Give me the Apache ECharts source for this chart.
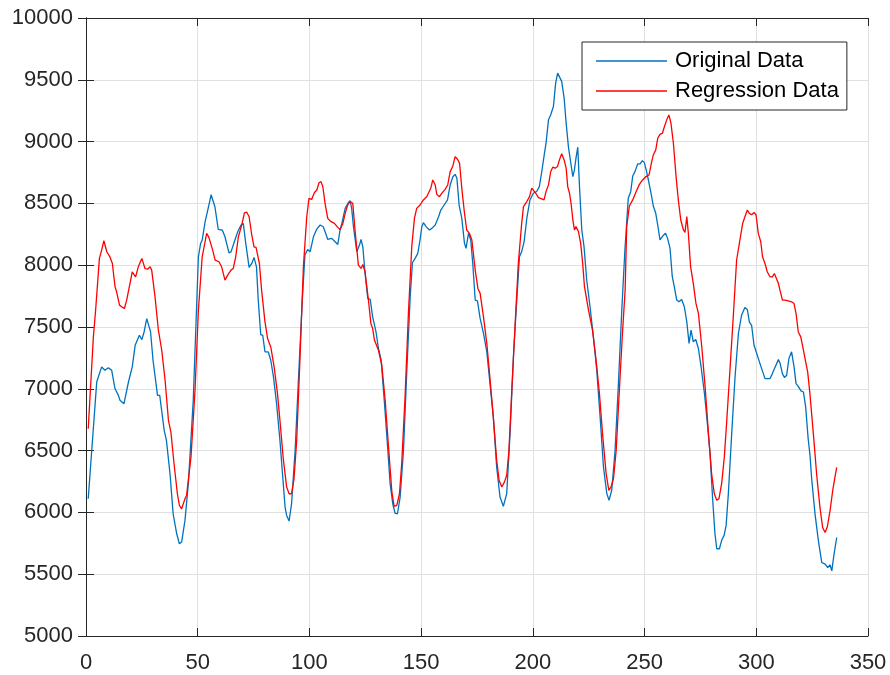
<!DOCTYPE html>
<html>
<head>
<meta charset="utf-8">
<script src="https://cdn.jsdelivr.net/npm/echarts@6/dist/echarts.min.js"></script>
<style>
  html, body { margin: 0; padding: 0; background: #fff; }
  #chart { width: 890px; height: 675px; }
</style>
</head>
<body>
<div id="chart"></div>
<script>
// values
const origX = [1, 4.8, 7, 8.5, 10, 11.5, 13, 14.5, 15.2, 17, 19, 20.7, 22, 23.9, 25, 26, 27.2, 28.9, 30, 32, 33, 35, 36, 37.6, 39, 40.6, 41.8, 42.8, 44.3, 45.8, 48, 50.3, 51.3, 52, 53.3, 55.5, 56,
  57.7, 59.2, 61, 62.2, 64, 64.9, 66.4, 67.9, 69.4, 70.4, 71.5, 73, 74.2, 75.2, 76.3, 77.1, 78.2, 79.1, 80.1, 81.6, 82.7, 83.9, 85.3, 86.8, 88, 89.1, 89.8, 90.9, 92, 93.6, 95, 96.8, 98, 99.2, 100.3, 101.8, 103.3, 104.8, 106.2, 107.3, 108.2, 110, 111.5, 112.7, 113.7, 114.5, 116, 117.4, 118.2, 118.9, 119.7,
  121.2, 122.4, 123.1, 123.9, 124.9, 126.1, 127.2, 128.3, 129.8, 130.9, 132.1, 133.6, 135.1, 136.1, 137.3, 138.3, 139.4, 140.6, 142.1, 143.6, 145.1, 146.1, 147.3, 148.5, 149.5, 150.3, 151, 152.2, 153.7, 154.8, 156.3, 157.8, 158.8, 160.3, 161.8, 163, 164.2, 165.2, 166, 167, 168.2, 169.4, 170.1, 171.2, 172.2, 173.1, 174.2, 175.2, 176.4, 177.9, 179.4,
  180.8, 182.3, 183.8, 185.3, 186.8, 188.3, 189.8, 191.3, 192.8, 194, 195, 196.1, 197.3, 198.7, 200.2, 201.7, 202.9, 204, 205.2, 205.9, 207, 208, 209.2, 210.2, 211.1, 211.9, 212.9, 214, 214.9, 215.9, 217, 217.9, 218.6, 219.3, 220.1, 220.8, 221.9, 222.9, 224.1, 225.6, 227.1, 228.6, 230.1, 231.6, 233.1, 234.1, 235.3, 236.8, 238.3, 239.8,
  241.2, 242.7, 243.8, 244.7, 245.7, 246.9, 248, 249, 249.9, 250.9, 252, 252.9, 253.9, 255, 255.9, 256.9, 258.1, 259.4, 260.3, 261.4, 262.4, 263.3, 264.4, 265.4, 266.6, 267.8, 268.9, 269.9, 270.8, 271.8, 272.9, 274.1, 275.3, 276.8, 278.1, 279.3, 280.5, 281.5, 282.3, 283.5, 284.5, 285.6, 286.5, 287.5, 289, 290.5, 292,
  293.4, 294.2, 294.9, 296, 296.9, 297.9, 299, 300.2, 301.4, 302.4, 303.9, 304.9, 306.1, 307.2, 308.1, 308.8, 309.9, 310.6, 311.7, 312.6, 313.6, 314.6, 315.8, 316.9, 317.8, 318.8, 320, 321.1, 322.1, 323.2, 324, 324.8, 326.3, 327.8, 329.3, 330.8, 332, 333, 333.8, 334.8, 336];
const origY = [6110, 7055, 7177, 7150, 7170, 7150, 7000, 6947, 6907, 6880, 7055, 7177, 7352, 7433, 7398, 7460, 7568, 7460, 7231, 6947, 6947, 6664, 6583, 6313, 5989, 5827, 5746, 5760, 5935, 6232, 6907, 8068, 8176, 8203, 8350, 8527, 8570,
  8473, 8289, 8284, 8230, 8100, 8108, 8190, 8271, 8325, 8338, 8176, 7982, 8014, 8063, 7987, 7717, 7439, 7433, 7298, 7298, 7231, 7096, 6880, 6583, 6300, 6043, 5975, 5930, 6070, 6502, 7042, 7717, 8082, 8127, 8108, 8230, 8292, 8325, 8311, 8257, 8208, 8217, 8190, 8168, 8284, 8338, 8460, 8505, 8522, 8460, 8311,
  8109, 8163, 8209, 8149, 7933, 7731, 7723, 7582, 7461, 7326, 7231, 6880, 6502, 6232, 6070, 5995, 5989, 6124, 6502, 7150, 7744, 8020, 8055, 8096, 8204, 8312, 8344, 8312, 8285, 8298, 8325, 8392, 8446, 8487, 8528, 8649, 8716, 8735, 8703, 8487, 8379, 8177, 8136, 8258, 8204, 8015, 7718, 7712, 7569, 7448, 7299,
  7043, 6773, 6368, 6125, 6050, 6152, 6638, 7259, 7718, 8069, 8110, 8191, 8380, 8528, 8582, 8596, 8636, 8758, 8906, 8987, 9176, 9217, 9284, 9473, 9554, 9568, 9487, 9352, 9149, 8960, 8825, 8717, 8771, 8866, 8955, 8663, 8285, 8150, 7880, 7662, 7421, 7151, 6773, 6368, 6152, 6098, 6179, 6503, 7043, 7635,
  8123, 8541, 8595, 8722, 8757, 8819, 8819, 8846, 8830, 8757, 8663, 8582, 8479, 8420, 8325, 8204, 8236, 8258, 8217, 8136, 7907, 7826, 7718, 7704, 7723, 7664, 7542, 7367, 7475, 7380, 7399, 7326, 7178, 6962, 6720, 6476, 6098, 5828, 5706, 5706, 5774, 5814, 5895, 6152, 6638, 7097, 7448,
  7595, 7582, 7658, 7641, 7541, 7514, 7352, 7285, 7218, 7163, 7082, 7082, 7082, 7123, 7163, 7163, 7236, 7209, 7123, 7091, 7110, 7245, 7299, 7177, 7042, 7020, 6983, 6974, 6853, 6600, 6470, 6270, 5986, 5770, 5595, 5581, 5554, 5576, 5527, 5662, 5797];

const regX = [1, 3.3, 4.3, 6, 7, 8, 9.3, 10.7, 11.8, 13, 13.7, 15, 16, 17.2, 18.2, 19.7, 20.7, 21.2, 22.2, 23.4, 25, 26.4, 27.6, 28.7, 29.4, 30.9, 32.4, 33.9, 35.4, 36.9, 38, 39.4, 40.9, 41.8, 42.8, 44.3, 45, 47, 48.8, 50.3, 52, 54, 55, 56.7, 57.8,
  59.5, 60.7, 62.2, 63.4, 64.9, 65.9, 67, 68.2, 69.7, 70.9, 71.9, 73, 74.2, 75.2, 76.1, 77.6, 78.6, 80.1, 81.3, 82.7, 84.2, 85.7, 86.8, 88.3, 89.8, 90.9, 92, 93.1, 94.3, 95.8, 97.3, 98.8, 99.8, 101, 102.2, 103.3, 104.3, 105.2, 106, 107, 108.2, 109.7, 111.2, 112.7, 113.7, 114.9, 116, 117.1, 118.2, 118.9,
  119.4, 120.4, 121.9, 123.1, 123.9, 124.9, 126.4, 127.5, 128.3, 129.1, 130.9, 132.4, 133.9, 135.4, 136.9, 137.9, 139.1, 140.3, 141.3, 142.8, 144.3, 145.8, 147, 148, 149.5, 151, 152.5, 153.3, 154.3, 155.2, 156.3, 157, 158.2, 159.2, 160.7, 161.9, 163, 164.2, 165.2, 166.3, 167.2, 168.2, 169.4, 170.4, 171.6, 172.7, 174.2, 175.4, 176.4, 177.9, 179.4,
  180.8, 182.3, 183.8, 184.9, 186.1, 187.3, 188.3, 189.3, 190.5, 192, 193.5, 195, 195.8, 197.3, 198.5, 199.5, 200.2, 201.3, 202.5, 204, 205, 205.9, 207, 208, 208.9, 210, 211, 211.9, 212.9, 214, 214.9, 215.6, 216.4, 217.1, 217.9, 218.6, 219.3, 220.4, 221.4, 222.3, 223.1, 224.9, 226.7, 228.3, 229.8, 231.3, 232.8, 234, 235, 236.1, 237.3, 238.8, 240.1, 241.3,
  242, 243.2, 244.7, 246.2, 247.7, 249.1, 250.6, 252, 253.2, 253.9, 255, 255.9, 256.9, 258, 258.9, 259.9, 260.9, 261.8, 262.9, 264.1, 265.1, 266.2, 267.4, 268.1, 268.9, 269.6, 270.6, 271.8, 273, 274.1, 275.6, 277.1, 278.6, 280, 281.2, 282.3, 283.3, 284.5, 285.7, 286.8, 288.3, 289.7, 291.2,
  293.9, 294.9, 296, 296.9, 297.9, 299, 299.9, 300.9, 302, 302.8, 303.9, 304.9, 306.1, 307.2, 308.1, 308.8, 309.9, 310.6, 311.7, 312.8, 314.3, 315.8, 316.9, 317.8, 318.8, 319.9, 321.1, 322.1, 323, 324, 325.8, 327, 328.5, 329.7, 330.8, 331.8, 333, 334.2, 335.2, 336];
const regY = [6677, 7420, 7636, 8055, 8122, 8198, 8109, 8068, 8014, 7825, 7785, 7677, 7663, 7650, 7717, 7852, 7946, 7955, 7906, 7987, 8055, 7973, 7968, 7987, 7960, 7744, 7474, 7312, 7069, 6745, 6650, 6394, 6151, 6056, 6029, 6110, 6137, 6448, 6988, 7636, 8068, 8257, 8225, 8122, 8041,
  8028, 7987, 7879, 7920, 7960, 7973, 8068, 8230, 8325, 8424, 8430, 8392, 8244, 8149, 8144, 8014, 7798, 7542, 7406, 7339, 7177, 6961, 6745, 6434, 6205, 6151, 6151, 6272, 6583, 7258, 7987, 8392, 8541, 8532, 8586, 8608, 8667, 8676, 8635, 8500, 8379, 8352, 8338, 8306, 8289, 8333, 8419, 8487, 8514, 8505,
  8500, 8285, 8001, 7974, 8006, 7947, 7718, 7529, 7488, 7394, 7312, 7191, 6907, 6529, 6165, 6049, 6057, 6151, 6394, 6934, 7610, 8150, 8379, 8460, 8487, 8528, 8554, 8568, 8622, 8690, 8649, 8573, 8554, 8581, 8614, 8649, 8757, 8803, 8878, 8857, 8824, 8622, 8420, 8285, 8258, 8204, 7960, 7812, 7772, 7582, 7366,
  7084, 6773, 6422, 6260, 6206, 6247, 6301, 6503, 6962, 7500, 8015, 8339, 8474, 8515, 8555, 8623, 8636, 8582, 8547, 8536, 8528, 8596, 8650, 8758, 8793, 8785, 8798, 8852, 8901, 8852, 8785, 8636, 8582, 8501, 8366, 8285, 8312, 8272, 8177, 8015, 7826, 7637, 7475, 7232, 6962, 6611, 6314, 6179, 6206, 6274, 6503, 7016, 7448, 7799,
  8312, 8479, 8528, 8595, 8654, 8690, 8717, 8730, 8838, 8892, 8933, 9027, 9059, 9068, 9122, 9176, 9216, 9149, 8987, 8717, 8528, 8366, 8285, 8266, 8393, 8258, 7988, 7853, 7691, 7610, 7340, 7016, 6638, 6314, 6152, 6098, 6111, 6233, 6449, 6746, 7178, 7583, 8042,
  8338, 8392, 8446, 8419, 8408, 8427, 8406, 8257, 8190, 8068, 8014, 7947, 7906, 7906, 7933, 7947, 7852, 7798, 7717, 7717, 7712, 7704, 7690, 7609, 7460, 7420, 7312, 7218, 7137, 6961, 6581, 6311, 6040, 5878, 5838, 5884, 6013, 6176, 6286, 6365];

const seriesNames = ['Original Data', 'Regression Data'];
const xTicks = { min: 0, max: 350, step: 50 };
const yTicks = { min: 5000, max: 10000, step: 500 };

const ink = '#262626';
const font = 'Liberation Sans, Arial, Helvetica, sans-serif';

function pairs(xs, ys) {
  return xs.map((x, i) => [x, ys[i]]);
}

const chart = echarts.init(document.getElementById('chart'), null, { renderer: 'canvas' });

// top / right edges of the box, ticks only
const frameAxis = {
  axisLine: { show: true, lineStyle: { color: ink, width: 1 } },
  axisTick: { show: true, inside: true, length: 8, lineStyle: { color: ink } },
  axisLabel: { show: false },
  splitLine: { show: false }
};

let option = {
  animation: false,
  backgroundColor: '#fff',
  grid: { left: 86, right: 22, top: 18, bottom: 39 },
  legend: {
    data: seriesNames,
    orient: 'vertical',
    left: 582,
    top: 42,
    icon: 'rect',
    itemWidth: 71,
    itemHeight: 1.4,
    itemGap: 6,
    padding: [7, 8, 7, 14],
    borderColor: ink,
    borderWidth: 1,
    borderRadius: 0,
    backgroundColor: '#fff',
    textStyle: { fontFamily: font, fontSize: 22, color: '#000', lineHeight: 24, padding: [0, 0, 0, 3] }
  },
  xAxis: [
    {
      type: 'value',
      min: xTicks.min, max: xTicks.max, interval: xTicks.step,
      axisLine: { show: true, onZero: false, lineStyle: { color: ink, width: 1 } },
      axisTick: { show: true, inside: true, length: 8, lineStyle: { color: ink } },
      axisLabel: { color: ink, fontFamily: font, fontSize: 22, margin: 16, formatter: v => String(v) },
      splitLine: { show: true, lineStyle: { color: '#e0e0e0', width: 1 } }
    },
    Object.assign({ type: 'value', position: 'top', min: xTicks.min, max: xTicks.max, interval: xTicks.step }, frameAxis)
  ],
  yAxis: [
    {
      type: 'value',
      min: yTicks.min, max: yTicks.max, interval: yTicks.step,
      axisLine: { show: true, onZero: false, lineStyle: { color: ink, width: 1 } },
      axisTick: { show: true, inside: true, length: 8, lineStyle: { color: ink } },
      axisLabel: { color: ink, fontFamily: font, fontSize: 22, margin: 13, formatter: v => String(v) },
      splitLine: { show: true, lineStyle: { color: '#e0e0e0', width: 1 } }
    },
    Object.assign({ type: 'value', position: 'right', min: yTicks.min, max: yTicks.max, interval: yTicks.step }, frameAxis)
  ],
  series: [
    {
      name: seriesNames[0],
      type: 'line',
      data: pairs(origX, origY),
      symbol: 'none',
      showSymbol: false,
      color: '#0072BD',
      lineStyle: { color: '#0072BD', width: 1.3 }
    },
    {
      name: seriesNames[1],
      type: 'line',
      data: pairs(regX, regY),
      symbol: 'none',
      showSymbol: false,
      color: '#FF0000',
      lineStyle: { color: '#FF0000', width: 1.3 }
    }
  ]
};

option && chart.setOption(option);
</script>
</body>
</html>
